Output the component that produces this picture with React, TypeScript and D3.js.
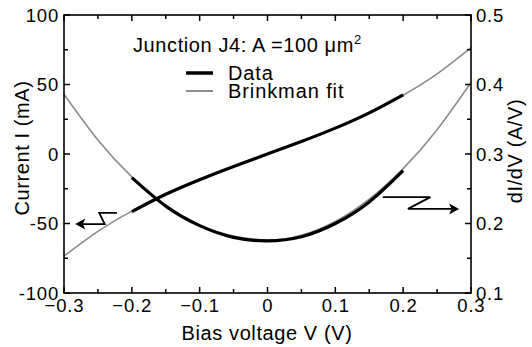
import React from "react";
import * as d3 from "d3";

// Brinkman fit, V in volts
const fitV = [-0.3, -0.25, -0.2, -0.15, -0.1, -0.05, 0, 0.05, 0.1, 0.15, 0.2, 0.25, 0.3];
const fitI = [-73.5, -55.7, -41.1, -28.8, -18.3, -8.9, 0, 8.9, 18.6, 29.5, 42.3, 57.6, 76.5];
const fitG = [0.386, 0.32, 0.267, 0.226, 0.197, 0.182, 0.176, 0.183, 0.203, 0.235, 0.279, 0.335, 0.403];

// Measured data
const dataV = [-0.2, -0.15, -0.1, -0.05, 0, 0.05, 0.1, 0.15, 0.2];
const dataI = [-41.5, -29.0, -18.5, -9.0, 0, 9.0, 18.6, 29.6, 42.6];
const dataG = [0.266, 0.225, 0.197, 0.18, 0.175, 0.181, 0.2, 0.231, 0.276];

const xTickLabels = [-0.3, -0.2, -0.1, 0, 0.1, 0.2, 0.3];
const xMinorTicks = [-0.25, -0.15, -0.05, 0.05, 0.15, 0.25];
const yITickLabels = [-100, -50, 0, 50, 100];
const yIMinorTicks = [-75, -25, 25, 75];
const yGTickLabels = [0.1, 0.2, 0.3, 0.4, 0.5];
const yGMinorTicks = [0.15, 0.25, 0.35, 0.45];

const W = 532, H = 347;
const L = 64, R = 471, T = 15, B = 293;
const FONT = "'Liberation Sans', Arial, Helvetica, sans-serif";

export default function App() {
  const x = d3.scaleLinear().domain([-0.3, 0.3]).range([L, R]);
  const yI = d3.scaleLinear().domain([-100, 100]).range([B, T]);
  const yG = d3.scaleLinear().domain([0.1, 0.5]).range([B, T]);

  const lineI = d3.line<number>().x((_, i) => x(fitV[i])).y((d) => yI(d)).curve(d3.curveNatural);
  const lineG = d3.line<number>().x((_, i) => x(fitV[i])).y((d) => yG(d)).curve(d3.curveNatural);
  const dlineI = d3.line<number>().x((_, i) => x(dataV[i])).y((d) => yI(d)).curve(d3.curveNatural);
  const dlineG = d3.line<number>().x((_, i) => x(dataV[i])).y((d) => yG(d)).curve(d3.curveNatural);

  const fmtX = (v: number) => (v === 0 ? "0" : d3.format(".1f")(v));

  // annotation arrows (data coords)
  const leftArrow: [number, number][] = [[-0.222, -42.4], [-0.248, -42.4], [-0.24, -50.4], [-0.279, -50.4]];
  const rightArrow: [number, number][] = [[0.17, 0.238], [0.24, 0.238], [0.207, 0.221], [0.278, 0.221]];
  const la = leftArrow.map(([v, i]) => [x(v), yI(i)] as [number, number]);
  const ra = rightArrow.map(([v, g]) => [x(v), yG(g)] as [number, number]);

  const tickStroke = { stroke: "#000", strokeWidth: 1.5 };
  const TS = 18.5, TLS = 0.8;

  return (
    <svg width={W} height={H} style={{ position: "absolute", left: 0, top: 0, background: "#fff" }} fontFamily={FONT}>
      <rect x={0} y={0} width={W} height={H} fill="#fff" />
      {/* curves */}
      <path d={lineI(fitI) || ""} fill="none" stroke="#8c8c8c" strokeWidth={1.6} />
      <path d={lineG(fitG) || ""} fill="none" stroke="#8c8c8c" strokeWidth={1.6} />
      <path d={dlineI(dataI) || ""} fill="none" stroke="#000" strokeWidth={3.2} />
      <path d={dlineG(dataG) || ""} fill="none" stroke="#000" strokeWidth={3.2} />

      {/* frame */}
      <rect x={L} y={T} width={R - L} height={B - T} fill="none" stroke="#000" strokeWidth={1.6} />

      {/* x ticks */}
      {xTickLabels.map((v) => (
        <g key={"xt" + v}>
          <line x1={x(v)} x2={x(v)} y1={B} y2={B - 6} {...tickStroke} />
          <line x1={x(v)} x2={x(v)} y1={T} y2={T + 6} {...tickStroke} />
          <text x={x(v) + TLS / 2} y={312} fontSize={TS} textAnchor="middle" letterSpacing={TLS}>{fmtX(v)}</text>
        </g>
      ))}
      {xMinorTicks.map((v) => (
        <g key={"xm" + v}>
          <line x1={x(v)} x2={x(v)} y1={B} y2={B - 4} {...tickStroke} />
          <line x1={x(v)} x2={x(v)} y1={T} y2={T + 4} {...tickStroke} />
        </g>
      ))}
      {/* left ticks */}
      {yITickLabels.map((v) => (
        <g key={"yi" + v}>
          <line x1={L} x2={L + 6} y1={yI(v)} y2={yI(v)} {...tickStroke} />
          <text x={59} y={yI(v) + 6.5} fontSize={TS} textAnchor="end" letterSpacing={TLS}>{v}</text>
        </g>
      ))}
      {yIMinorTicks.map((v) => (
        <line key={"yim" + v} x1={L} x2={L + 4} y1={yI(v)} y2={yI(v)} {...tickStroke} />
      ))}
      {/* right ticks */}
      {yGTickLabels.map((v) => (
        <g key={"yg" + v}>
          <line x1={R} x2={R - 6} y1={yG(v)} y2={yG(v)} {...tickStroke} />
          <text x={476} y={yG(v) + 6.5} fontSize={TS} textAnchor="start" letterSpacing={TLS}>{v.toFixed(1)}</text>
        </g>
      ))}
      {yGMinorTicks.map((v) => (
        <line key={"ygm" + v} x1={R} x2={R - 4} y1={yG(v)} y2={yG(v)} {...tickStroke} />
      ))}

      {/* axis titles */}
      <text x={267} y={340} fontSize={20} textAnchor="middle" letterSpacing={0.6}>Bias voltage V (V)</text>
      <text transform={`translate(29,148) rotate(-90)`} fontSize={20} textAnchor="middle" letterSpacing={0.6}>Current I (mA)</text>
      <text transform={`translate(522,151) rotate(-90)`} fontSize={20} textAnchor="middle" letterSpacing={0.6}>dI/dV (A/V)</text>

      {/* annotation */}
      <text x={133} y={52} fontSize={20} letterSpacing={0.6}>
        Junction J4: A =100 μm<tspan fontSize={13} dy={-8}>2</tspan>
      </text>
      {/* legend */}
      <line x1={186} x2={213} y1={73} y2={73} stroke="#000" strokeWidth={3.5} />
      <text x={228} y={80} fontSize={20} letterSpacing={0.9}>Data</text>
      <line x1={186} x2={213} y1={91} y2={91} stroke="#8c8c8c" strokeWidth={2} />
      <text x={228} y={98} fontSize={20} letterSpacing={0.9}>Brinkman fit</text>

      {/* arrows */}
      <polyline points={la.map((p) => p.join(",")).join(" ")} fill="none" stroke="#000" strokeWidth={1.8} />
      <path d={`M${la[3][0] - 3},${la[3][1]} l10,-5.5 l-2.5,5.5 l2.5,5.5 Z`} fill="#000" />
      <polyline points={ra.map((p) => p.join(",")).join(" ")} fill="none" stroke="#000" strokeWidth={1.8} />
      <path d={`M${ra[3][0] + 3},${ra[3][1]} l-10,-5.5 l2.5,5.5 l-2.5,5.5 Z`} fill="#000" />
    </svg>
  );
}
